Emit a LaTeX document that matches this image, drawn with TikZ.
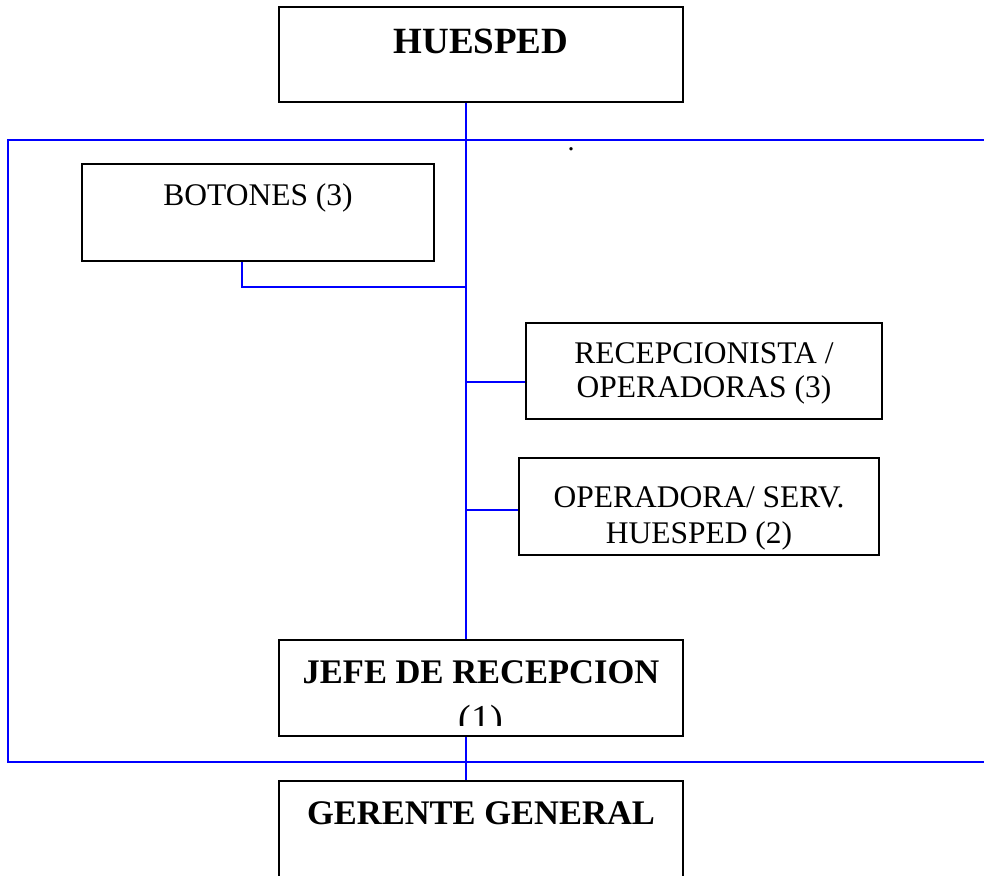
\documentclass[tikz,border=0pt]{standalone}
\usepackage{fontspec}
\setmainfont{Liberation Serif}
\begin{document}
\begin{tikzpicture}[x=1pt,y=-1pt,
  box/.style={draw=black, line width=2pt, inner sep=0pt, rectangle},
  link/.style={draw=blue, line width=2pt},
  lbl/.style={anchor=base, inner sep=0pt},
  bigbold/.style={font=\fontsize{37}{42}\selectfont\bfseries},
  headbold/.style={font=\fontsize{34.5}{40}\selectfont\bfseries},
  plain/.style={font=\fontsize{31.5}{36}\selectfont}]
\clip (0,0) rectangle (984,875);

% department frame
\draw[link] (8,140) rectangle (1000,762);

% boxes
\node[box, minimum width=404pt, minimum height=95pt] (huesped) at (481,54.5) {};
\node[box, minimum width=352pt, minimum height=97pt] (botones) at (258,212.5) {};
\node[box, minimum width=356pt, minimum height=96pt] (recep) at (704,371) {};
\node[box, minimum width=360pt, minimum height=97pt] (oper) at (699,506.5) {};
\node[box, minimum width=404pt, minimum height=96pt] (jefe) at (481,688) {};
\node[box, minimum width=404pt, minimum height=139pt] (gerente) at (481,850.5) {};

% labels
\node[lbl, bigbold] (huespedtxt) at (481,53) {HUESPED};
\node[lbl, plain] (botonestxt) at (258,205) {BOTONES (3)};
\node[lbl, plain] (receptxta) at (704,363) {RECEPCIONISTA /};
\node[lbl, plain] (receptxtb) at (704,397) {OPERADORAS (3)};
\node[lbl, plain] (opertxta) at (699,507) {OPERADORA/ SERV.};
\node[lbl, plain] (opertxtb) at (699,543) {HUESPED (2)};
\node[lbl, headbold] (jefetxt) at (481,683) {JEFE DE RECEPCION};
\begin{scope}
  \clip (281,642) rectangle (681,725);
  \node[lbl, font=\fontsize{38}{42}\selectfont] (jefenum) at (481,731) {(1)};
\end{scope}
\node[lbl, headbold] (gerentetxt) at (481,824) {GERENTE GENERAL};
\node[lbl, font=\fontsize{28}{30}\selectfont] (dot) at (571,150) {.};

% connectors
\coordinate (trunk) at (466,0);
\coordinate (botturn) at (242,287);
\coordinate (recepjoin) at (0,382);
\coordinate (operjoin) at (0,510);
\draw[link] (trunk |- huesped.south) -- (trunk |- jefe.north);
\draw[link] (trunk |- jefe.south) -- (trunk |- gerente.north);
\draw[link] (botones.south -| botturn) -- (botturn) -- (trunk |- botturn);
\draw[link] (trunk |- recepjoin) -- (recep.west |- recepjoin);
\draw[link] (trunk |- operjoin) -- (oper.west |- operjoin);
\end{tikzpicture}
\end{document}
